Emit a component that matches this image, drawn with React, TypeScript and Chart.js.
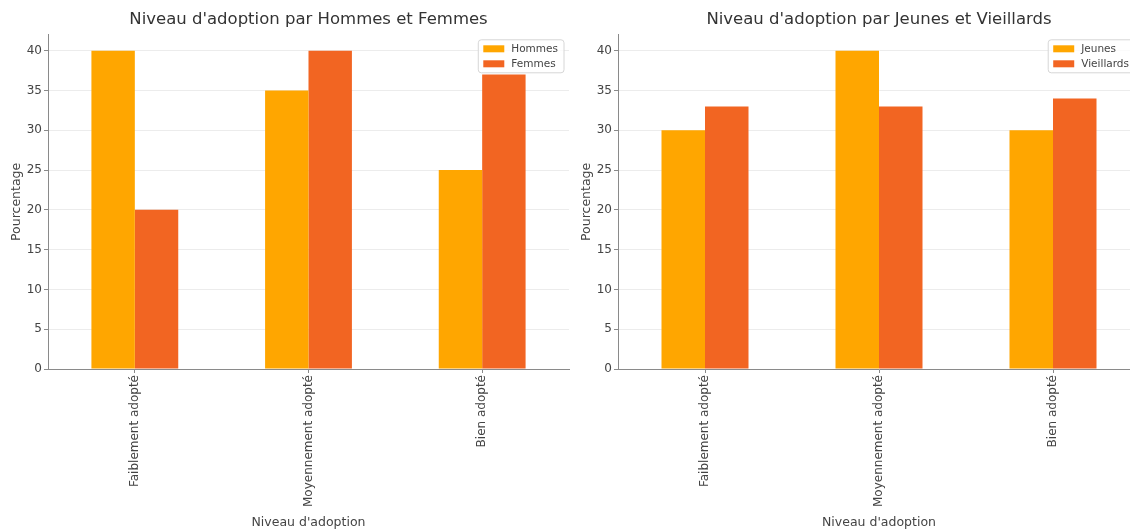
import { useEffect, useRef } from 'react';
import { Chart, registerables } from 'chart.js';

Chart.register(...registerables);

// ---- data ----
const categories = ['Faiblement adopté', 'Moyennement adopté', 'Bien adopté'];
const hommes = [40, 35, 25];
const femmes = [20, 40, 37];
const jeunes = [30, 40, 30];
const vieillards = [33, 33, 34];
const yTickValues = [0, 5, 10, 15, 20, 25, 30, 35, 40];
const yMax = 42;

// ---- styling ----
const FONT = '"DejaVu Sans", "Liberation Sans", sans-serif';
const ORANGE = '#FFA600';
const RED_ORANGE = '#F26522';
const AXIS = '#8a8a8a';
const TEXT = '#444444';
const GRID = '#ececec';

Chart.defaults.font.family = FONT;

// Framed legend in the upper-right corner of the plot area
const boxLegend = {
  id: 'boxLegend',
  afterDatasetsDraw(chart: any) {
    const { ctx, chartArea } = chart;
    const items = chart.data.datasets.map((d: any) => ({ label: d.label, color: d.backgroundColor }));
    ctx.save();
    ctx.font = `10.5px ${FONT}`;
    const textW = Math.max(...items.map((i: any) => ctx.measureText(i.label).width));
    const padX = 5, sw = 21, sh = 7, gap = 7, row = 15, padY = 9;
    const w = padX + sw + gap + textW + padX + 1;
    const h = padY * 2 + row * (items.length - 1);
    const x = chartArea.right - 5 - w;
    const y = chartArea.top + 5;
    const r = 3;
    ctx.beginPath();
    ctx.moveTo(x + r, y);
    ctx.lineTo(x + w - r, y);
    ctx.arcTo(x + w, y, x + w, y + r, r);
    ctx.lineTo(x + w, y + h - r);
    ctx.arcTo(x + w, y + h, x + w - r, y + h, r);
    ctx.lineTo(x + r, y + h);
    ctx.arcTo(x, y + h, x, y + h - r, r);
    ctx.lineTo(x, y + r);
    ctx.arcTo(x, y, x + r, y, r);
    ctx.closePath();
    ctx.fillStyle = 'rgba(255,255,255,0.8)';
    ctx.fill();
    ctx.strokeStyle = '#d6d6d6';
    ctx.lineWidth = 1;
    ctx.stroke();
    items.forEach((it: any, i: number) => {
      const cy = y + padY + i * row;
      ctx.fillStyle = it.color;
      ctx.fillRect(x + padX, cy - sh / 2, sw, sh);
      ctx.fillStyle = TEXT;
      ctx.textBaseline = 'middle';
      ctx.textAlign = 'left';
      ctx.fillText(it.label, x + padX + sw + gap, cy);
    });
    ctx.restore();
  },
};

type Series = { label: string; values: number[]; color: string };

function BarPanel(props: { title: string; series: Series[]; left: number; width: number; rightPad: number }) {
  const ref = useRef<HTMLCanvasElement>(null);
  useEffect(() => {
    const chart = new Chart(ref.current as HTMLCanvasElement, {
      type: 'bar',
      data: {
        labels: categories,
        datasets: props.series.map((s) => ({
          label: s.label,
          data: s.values,
          backgroundColor: s.color,
          borderWidth: 0,
          categoryPercentage: 0.5,
          barPercentage: 1.0,
        })),
      },
      options: {
        responsive: false,
        animation: false,
        devicePixelRatio: 1,
        layout: { padding: { left: 0, right: props.rightPad, top: 0, bottom: 0 } },
        plugins: {
          legend: { display: false },
          tooltip: { enabled: false },
          title: {
            display: true,
            text: props.title,
            fullSize: false,
            color: '#333333',
            font: { family: FONT, size: 16.5, weight: 'normal' },
            padding: { top: 10, bottom: 5 },
          },
        },
        scales: {
          x: {
            grid: {
              display: true,
              drawOnChartArea: false,
              drawTicks: true,
              tickLength: 4,
              tickColor: AXIS,
              offset: false,
            },
            border: { display: true, color: AXIS, width: 1 },
            ticks: {
              minRotation: 90,
              maxRotation: 90,
              padding: 2,
              color: TEXT,
              font: { family: FONT, size: 12 },
            },
            title: {
              display: true,
              text: "Niveau d'adoption",
              color: TEXT,
              font: { family: FONT, size: 12.5 },
              padding: { top: 4, bottom: 0 },
            },
            afterFit: (s: any) => {
              s.height = 161;
            },
          },
          y: {
            min: 0,
            max: yMax,
            afterBuildTicks: (s: any) => {
              s.ticks = yTickValues.map((v) => ({ value: v }));
            },
            grid: { color: GRID, tickColor: AXIS, tickLength: 4, drawTicks: true },
            border: { display: true, color: AXIS, width: 1 },
            ticks: { padding: 2, color: TEXT, font: { family: FONT, size: 12 } },
            title: {
              display: true,
              text: 'Pourcentage',
              color: TEXT,
              font: { family: FONT, size: 12.5 },
              padding: { top: 9.5, bottom: 0 },
            },
            afterFit: (s: any) => {
              s.width = 48;
            },
          },
        },
      },
      plugins: [boxLegend],
    } as any);
    return () => chart.destroy();
  }, []);
  return (
    <canvas
      ref={ref}
      width={props.width}
      height={530}
      style={{ position: 'absolute', left: props.left, top: 0, width: props.width, height: 530, display: 'block' }}
    />
  );
}

export default function App() {
  return (
    <div style={{ position: 'absolute', left: 0, top: 0, width: 1130, height: 530, overflow: 'hidden', background: '#fff' }}>
      <BarPanel
        title="Niveau d'adoption par Hommes et Femmes"
        series={[
          { label: 'Hommes', values: hommes, color: ORANGE },
          { label: 'Femmes', values: femmes, color: RED_ORANGE },
        ]}
        left={0}
        width={571}
        rightPad={2}
      />
      <BarPanel
        title="Niveau d'adoption par Jeunes et Vieillards"
        series={[
          { label: 'Jeunes', values: jeunes, color: ORANGE },
          { label: 'Vieillards', values: vieillards, color: RED_ORANGE },
        ]}
        left={570}
        width={580}
        rightPad={10}
      />
    </div>
  );
}
